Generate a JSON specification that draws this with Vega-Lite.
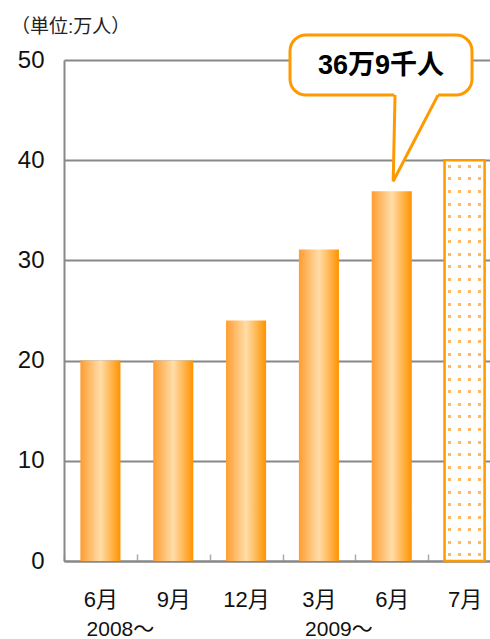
{
  "$schema": "https://vega.github.io/schema/vega-lite/v6.json",
  "width": 437,
  "height": 501,
  "autosize": {"type": "none"},
  "padding": {"left": 64, "top": 60, "right": 0, "bottom": 78},
  "background": "white",
  "config": {"view": {"stroke": null}, "font": "Liberation Sans, Noto Sans CJK JP"},
  "title": {
    "text": "（単位:万人）",
    "anchor": "start",
    "frame": "group",
    "dx": -53,
    "offset": -4,
    "fontSize": 19,
    "fontWeight": "normal",
    "color": "#222222"
  },
  "datasets": {
    "bars": [
      {"period": "2008年6月", "value": 20, "kind": "実績"},
      {"period": "2008年9月", "value": 20, "kind": "実績"},
      {"period": "2008年12月", "value": 24, "kind": "実績"},
      {"period": "2009年3月", "value": 31.1, "kind": "実績"},
      {"period": "2009年6月", "value": 36.9, "kind": "実績"},
      {"period": "2009年7月", "value": 40, "kind": "見込み"}
    ],
    "years": [
      {"period": "2008年6月", "year": "2008～"},
      {"period": "2009年3月", "year": "2009～"}
    ],
    "box": [{"x1": 3.103, "x2": 5.602, "y1": 46.5, "y2": 52.5}],
    "tailfill": [
      {"x": 4.535, "top": 46.75, "bot": 37.9},
      {"x": 5.135, "top": 46.75, "bot": 46.5}
    ],
    "tailline": [
      {"ord": 1, "x": 4.545, "y": 46.5},
      {"ord": 2, "x": 4.52, "y": 37.9},
      {"ord": 3, "x": 5.135, "y": 46.5}
    ],
    "callout": [{"x": 4.353, "y": 49.4, "text": "36万9千人"}]
  },
  "layer": [
    {
      "data": {"name": "bars"},
      "mark": {"type": "bar", "width": {"band": 0.55}},
      "encoding": {
        "x": {
          "field": "period",
          "type": "ordinal",
          "scale": {
            "domain": ["2008年6月", "2008年9月", "2008年12月", "2009年3月", "2009年6月", "2009年7月"],
            "paddingInner": 0,
            "paddingOuter": 0
          },
          "axis": {
            "title": null,
            "labelExpr": "isString(datum.value) ? slice(datum.value, 5) : ''",
            "labelAngle": 0,
            "labelFontSize": 22,
            "labelColor": "#111111",
            "labelPadding": 35,
            "domainColor": "#888888",
            "domainWidth": 2,
            "tickBand": "extent",
            "tickSize": -7,
            "tickColor": "#aaaaaa",
            "tickWidth": 1.5
          }
        },
        "y": {
          "field": "value",
          "type": "quantitative",
          "title": null,
          "scale": {"domain": [0, 50]},
          "axis": {
            "values": [0, 10, 20, 30, 40, 50],
            "grid": true,
            "gridColor": "#888888",
            "gridWidth": 2,
            "domainColor": "#888888",
            "domainWidth": 2,
            "ticks": false,
            "labelFontSize": 24,
            "labelColor": "#111111",
            "labelPadding": 20
          }
        },
        "fill": {
          "condition": {"test": "datum.kind == '見込み'", "value": "#FFB964"},
          "value": {
            "gradient": "linear",
            "x1": 0, "y1": 0, "x2": 1, "y2": 0,
            "stops": [
              {"offset": 0, "color": "#FF9D30"},
              {"offset": 0.5, "color": "#FFDDA9"},
              {"offset": 1, "color": "#FF9200"}
            ]
          }
        }
      }
    },
    {
      "data": {"name": "bars"},
      "transform": [{"filter": "datum.kind == '見込み'"}],
      "mark": {
        "type": "bar",
        "width": {"band": 0.55},
        "fill": {
          "gradient": "linear",
          "x1": 0, "y1": 0, "x2": 1, "y2": 0,
          "stops": [
            {"offset": 0, "color": "white"},
            {"offset": 0.0875, "color": "white"}, {"offset": 0.0875, "color": "rgba(255,255,255,0)"}, {"offset": 0.1625, "color": "rgba(255,255,255,0)"}, {"offset": 0.1625, "color": "white"},
            {"offset": 0.3375, "color": "white"}, {"offset": 0.3375, "color": "rgba(255,255,255,0)"}, {"offset": 0.4125, "color": "rgba(255,255,255,0)"}, {"offset": 0.4125, "color": "white"},
            {"offset": 0.5875, "color": "white"}, {"offset": 0.5875, "color": "rgba(255,255,255,0)"}, {"offset": 0.6625, "color": "rgba(255,255,255,0)"}, {"offset": 0.6625, "color": "white"},
            {"offset": 0.8375, "color": "white"}, {"offset": 0.8375, "color": "rgba(255,255,255,0)"}, {"offset": 0.9125, "color": "rgba(255,255,255,0)"}, {"offset": 0.9125, "color": "white"},
            {"offset": 1, "color": "white"}
          ]
        }
      },
      "encoding": {
        "x": {
          "field": "period",
          "type": "ordinal",
          "scale": {
            "domain": ["2008年6月", "2008年9月", "2008年12月", "2009年3月", "2009年6月", "2009年7月"],
            "paddingInner": 0,
            "paddingOuter": 0
          },
          "axis": null
        },
        "y": {"field": "value", "type": "quantitative"}
      }
    },
    {
      "data": {"name": "bars"},
      "transform": [{"filter": "datum.kind == '見込み'"}],
      "mark": {
        "type": "bar",
        "width": {"band": 0.55},
        "fill": {
          "gradient": "linear",
          "x1": 0, "y1": 0, "x2": 0, "y2": 1,
          "stops": [
            {"offset": 0, "color": "white"},
            {"offset": 0.0119, "color": "white"}, {"offset": 0.0119, "color": "rgba(255,255,255,0)"}, {"offset": 0.0194, "color": "rgba(255,255,255,0)"}, {"offset": 0.0194, "color": "white"},
            {"offset": 0.0431, "color": "white"}, {"offset": 0.0431, "color": "rgba(255,255,255,0)"}, {"offset": 0.0506, "color": "rgba(255,255,255,0)"}, {"offset": 0.0506, "color": "white"},
            {"offset": 0.0744, "color": "white"}, {"offset": 0.0744, "color": "rgba(255,255,255,0)"}, {"offset": 0.0819, "color": "rgba(255,255,255,0)"}, {"offset": 0.0819, "color": "white"},
            {"offset": 0.1056, "color": "white"}, {"offset": 0.1056, "color": "rgba(255,255,255,0)"}, {"offset": 0.1131, "color": "rgba(255,255,255,0)"}, {"offset": 0.1131, "color": "white"},
            {"offset": 0.1369, "color": "white"}, {"offset": 0.1369, "color": "rgba(255,255,255,0)"}, {"offset": 0.1444, "color": "rgba(255,255,255,0)"}, {"offset": 0.1444, "color": "white"},
            {"offset": 0.1681, "color": "white"}, {"offset": 0.1681, "color": "rgba(255,255,255,0)"}, {"offset": 0.1756, "color": "rgba(255,255,255,0)"}, {"offset": 0.1756, "color": "white"},
            {"offset": 0.1994, "color": "white"}, {"offset": 0.1994, "color": "rgba(255,255,255,0)"}, {"offset": 0.2069, "color": "rgba(255,255,255,0)"}, {"offset": 0.2069, "color": "white"},
            {"offset": 0.2306, "color": "white"}, {"offset": 0.2306, "color": "rgba(255,255,255,0)"}, {"offset": 0.2381, "color": "rgba(255,255,255,0)"}, {"offset": 0.2381, "color": "white"},
            {"offset": 0.2619, "color": "white"}, {"offset": 0.2619, "color": "rgba(255,255,255,0)"}, {"offset": 0.2694, "color": "rgba(255,255,255,0)"}, {"offset": 0.2694, "color": "white"},
            {"offset": 0.2931, "color": "white"}, {"offset": 0.2931, "color": "rgba(255,255,255,0)"}, {"offset": 0.3006, "color": "rgba(255,255,255,0)"}, {"offset": 0.3006, "color": "white"},
            {"offset": 0.3244, "color": "white"}, {"offset": 0.3244, "color": "rgba(255,255,255,0)"}, {"offset": 0.3319, "color": "rgba(255,255,255,0)"}, {"offset": 0.3319, "color": "white"},
            {"offset": 0.3556, "color": "white"}, {"offset": 0.3556, "color": "rgba(255,255,255,0)"}, {"offset": 0.3631, "color": "rgba(255,255,255,0)"}, {"offset": 0.3631, "color": "white"},
            {"offset": 0.3869, "color": "white"}, {"offset": 0.3869, "color": "rgba(255,255,255,0)"}, {"offset": 0.3944, "color": "rgba(255,255,255,0)"}, {"offset": 0.3944, "color": "white"},
            {"offset": 0.4181, "color": "white"}, {"offset": 0.4181, "color": "rgba(255,255,255,0)"}, {"offset": 0.4256, "color": "rgba(255,255,255,0)"}, {"offset": 0.4256, "color": "white"},
            {"offset": 0.4494, "color": "white"}, {"offset": 0.4494, "color": "rgba(255,255,255,0)"}, {"offset": 0.4569, "color": "rgba(255,255,255,0)"}, {"offset": 0.4569, "color": "white"},
            {"offset": 0.4806, "color": "white"}, {"offset": 0.4806, "color": "rgba(255,255,255,0)"}, {"offset": 0.4881, "color": "rgba(255,255,255,0)"}, {"offset": 0.4881, "color": "white"},
            {"offset": 0.5119, "color": "white"}, {"offset": 0.5119, "color": "rgba(255,255,255,0)"}, {"offset": 0.5194, "color": "rgba(255,255,255,0)"}, {"offset": 0.5194, "color": "white"},
            {"offset": 0.5431, "color": "white"}, {"offset": 0.5431, "color": "rgba(255,255,255,0)"}, {"offset": 0.5506, "color": "rgba(255,255,255,0)"}, {"offset": 0.5506, "color": "white"},
            {"offset": 0.5744, "color": "white"}, {"offset": 0.5744, "color": "rgba(255,255,255,0)"}, {"offset": 0.5819, "color": "rgba(255,255,255,0)"}, {"offset": 0.5819, "color": "white"},
            {"offset": 0.6056, "color": "white"}, {"offset": 0.6056, "color": "rgba(255,255,255,0)"}, {"offset": 0.6131, "color": "rgba(255,255,255,0)"}, {"offset": 0.6131, "color": "white"},
            {"offset": 0.6369, "color": "white"}, {"offset": 0.6369, "color": "rgba(255,255,255,0)"}, {"offset": 0.6444, "color": "rgba(255,255,255,0)"}, {"offset": 0.6444, "color": "white"},
            {"offset": 0.6681, "color": "white"}, {"offset": 0.6681, "color": "rgba(255,255,255,0)"}, {"offset": 0.6756, "color": "rgba(255,255,255,0)"}, {"offset": 0.6756, "color": "white"},
            {"offset": 0.6994, "color": "white"}, {"offset": 0.6994, "color": "rgba(255,255,255,0)"}, {"offset": 0.7069, "color": "rgba(255,255,255,0)"}, {"offset": 0.7069, "color": "white"},
            {"offset": 0.7306, "color": "white"}, {"offset": 0.7306, "color": "rgba(255,255,255,0)"}, {"offset": 0.7381, "color": "rgba(255,255,255,0)"}, {"offset": 0.7381, "color": "white"},
            {"offset": 0.7619, "color": "white"}, {"offset": 0.7619, "color": "rgba(255,255,255,0)"}, {"offset": 0.7694, "color": "rgba(255,255,255,0)"}, {"offset": 0.7694, "color": "white"},
            {"offset": 0.7931, "color": "white"}, {"offset": 0.7931, "color": "rgba(255,255,255,0)"}, {"offset": 0.8006, "color": "rgba(255,255,255,0)"}, {"offset": 0.8006, "color": "white"},
            {"offset": 0.8244, "color": "white"}, {"offset": 0.8244, "color": "rgba(255,255,255,0)"}, {"offset": 0.8319, "color": "rgba(255,255,255,0)"}, {"offset": 0.8319, "color": "white"},
            {"offset": 0.8556, "color": "white"}, {"offset": 0.8556, "color": "rgba(255,255,255,0)"}, {"offset": 0.8631, "color": "rgba(255,255,255,0)"}, {"offset": 0.8631, "color": "white"},
            {"offset": 0.8869, "color": "white"}, {"offset": 0.8869, "color": "rgba(255,255,255,0)"}, {"offset": 0.8944, "color": "rgba(255,255,255,0)"}, {"offset": 0.8944, "color": "white"},
            {"offset": 0.9181, "color": "white"}, {"offset": 0.9181, "color": "rgba(255,255,255,0)"}, {"offset": 0.9256, "color": "rgba(255,255,255,0)"}, {"offset": 0.9256, "color": "white"},
            {"offset": 0.9494, "color": "white"}, {"offset": 0.9494, "color": "rgba(255,255,255,0)"}, {"offset": 0.9569, "color": "rgba(255,255,255,0)"}, {"offset": 0.9569, "color": "white"},
            {"offset": 0.9806, "color": "white"}, {"offset": 0.9806, "color": "rgba(255,255,255,0)"}, {"offset": 0.9881, "color": "rgba(255,255,255,0)"}, {"offset": 0.9881, "color": "white"},
            {"offset": 1, "color": "white"}
          ]
        }
      },
      "encoding": {
        "x": {
          "field": "period",
          "type": "ordinal",
          "scale": {
            "domain": ["2008年6月", "2008年9月", "2008年12月", "2009年3月", "2009年6月", "2009年7月"],
            "paddingInner": 0,
            "paddingOuter": 0
          },
          "axis": null
        },
        "y": {"field": "value", "type": "quantitative"}
      }
    },
    {
      "data": {"name": "bars"},
      "transform": [{"filter": "datum.kind == '見込み'"}],
      "mark": {"type": "bar", "width": {"band": 0.55}, "filled": false, "stroke": "#FF9900", "strokeWidth": 2.5},
      "encoding": {
        "x": {
          "field": "period",
          "type": "ordinal",
          "scale": {
            "domain": ["2008年6月", "2008年9月", "2008年12月", "2009年3月", "2009年6月", "2009年7月"],
            "paddingInner": 0,
            "paddingOuter": 0
          },
          "axis": null
        },
        "y": {"field": "value", "type": "quantitative"}
      }
    },
    {
      "data": {"name": "years"},
      "mark": {"type": "text", "fontSize": 21, "color": "#111111", "dx": 20, "baseline": "middle"},
      "encoding": {
        "x": {
          "field": "period",
          "type": "ordinal",
          "scale": {
            "domain": ["2008年6月", "2008年9月", "2008年12月", "2009年3月", "2009年6月", "2009年7月"],
            "paddingInner": 0,
            "paddingOuter": 0
          },
          "axis": null
        },
        "y": {"datum": -6.85, "type": "quantitative"},
        "text": {"field": "year"}
      }
    },
    {
      "data": {"name": "box"},
      "mark": {"type": "rect", "fill": "white", "stroke": "#FF9900", "strokeWidth": 3, "cornerRadius": 16},
      "encoding": {
        "x": {"field": "x1", "type": "quantitative", "scale": {"domain": [0, 6], "nice": false, "zero": false}, "axis": null},
        "x2": {"field": "x2"},
        "y": {"field": "y1", "type": "quantitative"},
        "y2": {"field": "y2"}
      }
    },
    {
      "data": {"name": "tailfill"},
      "mark": {"type": "area", "fill": "white", "interpolate": "linear"},
      "encoding": {
        "x": {"field": "x", "type": "quantitative", "scale": {"domain": [0, 6], "nice": false, "zero": false}, "axis": null},
        "y": {"field": "top", "type": "quantitative"},
        "y2": {"field": "bot"}
      }
    },
    {
      "data": {"name": "tailline"},
      "mark": {"type": "line", "stroke": "#FF9900", "strokeWidth": 3, "strokeJoin": "miter"},
      "encoding": {
        "x": {"field": "x", "type": "quantitative", "scale": {"domain": [0, 6], "nice": false, "zero": false}, "axis": null},
        "y": {"field": "y", "type": "quantitative"},
        "order": {"field": "ord"}
      }
    },
    {
      "data": {"name": "callout"},
      "mark": {"type": "text", "fontSize": 27, "fontWeight": "bold", "color": "#000000", "baseline": "middle"},
      "encoding": {
        "x": {"field": "x", "type": "quantitative", "scale": {"domain": [0, 6], "nice": false, "zero": false}, "axis": null},
        "y": {"field": "y", "type": "quantitative"},
        "text": {"field": "text"}
      }
    }
  ],
  "resolve": {"scale": {"x": "independent"}}
}
